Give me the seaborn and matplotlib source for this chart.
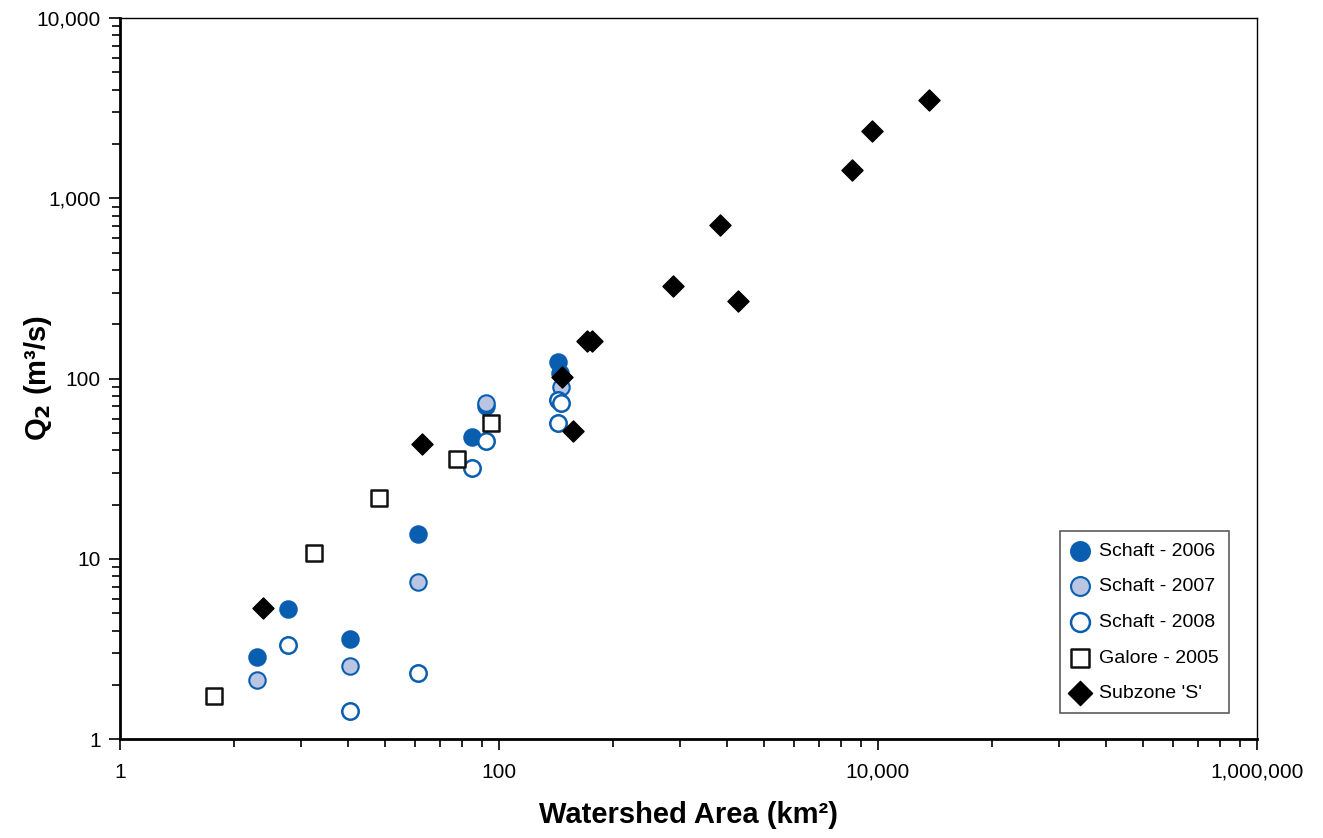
import pandas as pd
import seaborn as sns
import numpy as np
import matplotlib.pyplot as plt
from matplotlib.ticker import FuncFormatter, FixedLocator, NullFormatter

# Dados (área da bacia em km², Q2 em m³/s)
schaft_2006_area = [5.3, 7.7, 16.4, 37.4, 72, 85.4, 205, 210]
schaft_2006_q2 = [2.85, 5.26, 3.6, 13.7, 47.4, 70.4, 123.5, 108]

schaft_2007_area = [5.3, 16.4, 37.4, 85.4, 212]
schaft_2007_q2 = [2.13, 2.54, 7.43, 73.1, 89.7]

schaft_2008_area = [7.7, 16.4, 37.4, 72, 85.4, 204, 212, 204]
schaft_2008_q2 = [3.32, 1.43, 2.32, 31.9, 45, 76, 73.1, 56.4]

galore_2005_area = [3.13, 10.6, 23.3, 59.8, 90.4]
galore_2005_q2 = [1.73, 10.8, 21.7, 35.6, 56.4]

subzone_s_area = [5.68, 39.2, 214, 247, 291, 310, 829, 1467, 1825, 7290, 9300, 18580]
subzone_s_q2 = [5.33, 43.3, 102, 51.2, 161.5, 162, 326, 711, 269, 1435, 2360, 3510]

series = ["Schaft - 2006", "Schaft - 2007", "Schaft - 2008", "Galore - 2005", "Subzone 'S'"]
areas = [schaft_2006_area, schaft_2007_area, schaft_2008_area, galore_2005_area, subzone_s_area]
q2s = [schaft_2006_q2, schaft_2007_q2, schaft_2008_q2, galore_2005_q2, subzone_s_q2]

df = pd.concat([pd.DataFrame({'area': a, 'q2': q, 'serie': s})
                for a, q, s in zip(areas, q2s, series)], ignore_index=True)

azul = '#0A5EB0'
estilos = {
    "Schaft - 2006": dict(marker='o', color=azul, edgecolor=azul, s=140, linewidth=1.5),
    "Schaft - 2007": dict(marker='o', color='#B9C5E2', edgecolor=azul, s=140, linewidth=1.5),
    "Schaft - 2008": dict(marker='o', color='white', edgecolor=azul, s=140, linewidth=1.8),
    "Galore - 2005": dict(marker='s', color='white', edgecolor='#111111', s=125, linewidth=1.8),
    "Subzone 'S'": dict(marker='D', color='black', edgecolor='black', s=115, linewidth=1.0),
}

sns.set_style("white")
plt.rcParams['font.family'] = ['Liberation Sans', 'DejaVu Sans']
plt.rcParams['text.color'] = 'black'
plt.rcParams['axes.labelcolor'] = 'black'
plt.rcParams['xtick.color'] = 'black'
plt.rcParams['ytick.color'] = 'black'

fig = plt.figure(figsize=(13.23, 8.38), dpi=100)
ax = fig.add_axes([0.0907, 0.118, 0.8594, 0.8605])

for s in series:
    sns.scatterplot(data=df[df['serie'] == s], x='area', y='q2', label=s, ax=ax, zorder=3, **estilos[s])

ax.set_xscale('log')
ax.set_yscale('log')
ax.set_xlim(1, 1e6)
ax.set_ylim(1, 1e4)

# eixo x: maiores a cada 100x, menores em k² (estilo Excel)
ax.xaxis.set_major_locator(FixedLocator([1, 1e2, 1e4, 1e6]))
ax.xaxis.set_minor_locator(FixedLocator([b * k ** 2 for b in [1, 1e2, 1e4] for k in range(2, 10)]))
ax.yaxis.set_major_locator(FixedLocator([1, 10, 100, 1000, 10000]))
ax.yaxis.set_minor_locator(FixedLocator([b * k for b in [1, 10, 100, 1000] for k in range(2, 10)]))
fmt = FuncFormatter(lambda v, p: f"{v:,.0f}")
ax.xaxis.set_major_formatter(fmt)
ax.yaxis.set_major_formatter(fmt)
ax.xaxis.set_minor_formatter(NullFormatter())
ax.yaxis.set_minor_formatter(NullFormatter())

ax.tick_params(axis='both', which='both', direction='out', bottom=True, left=True,
               top=False, right=False, color='black', width=1.2)
ax.tick_params(axis='both', which='major', length=8, labelsize=15)
ax.tick_params(axis='x', which='major', pad=9)
ax.tick_params(axis='y', which='major', pad=6)
ax.tick_params(axis='both', which='minor', length=6)

for sp in ax.spines.values():
    sp.set_color('black')
    sp.set_linewidth(1.0)
ax.spines['left'].set_linewidth(2.0)
ax.spines['bottom'].set_linewidth(2.0)

ax.set_xlabel('Watershed Area (km²)', fontsize=21, fontweight='bold')
ax.set_ylabel('Q$_\\mathbf{2}$ (m³/s)', fontsize=21, fontweight='bold')
ax.xaxis.set_label_coords(0.5, -0.086)
ax.yaxis.set_label_coords(-0.058, 0.5)

leg = ax.legend(loc='lower right', bbox_to_anchor=(0.9754, 0.036), fontsize=14,
                frameon=True, fancybox=False, edgecolor='#333333', labelspacing=0.93,
                handlelength=1.0, handletextpad=0.45, borderpad=0.55, borderaxespad=0,
                markerscale=1.15)
leg.get_frame().set_linewidth(1.2)

plt.savefig('out.png', dpi=100)
